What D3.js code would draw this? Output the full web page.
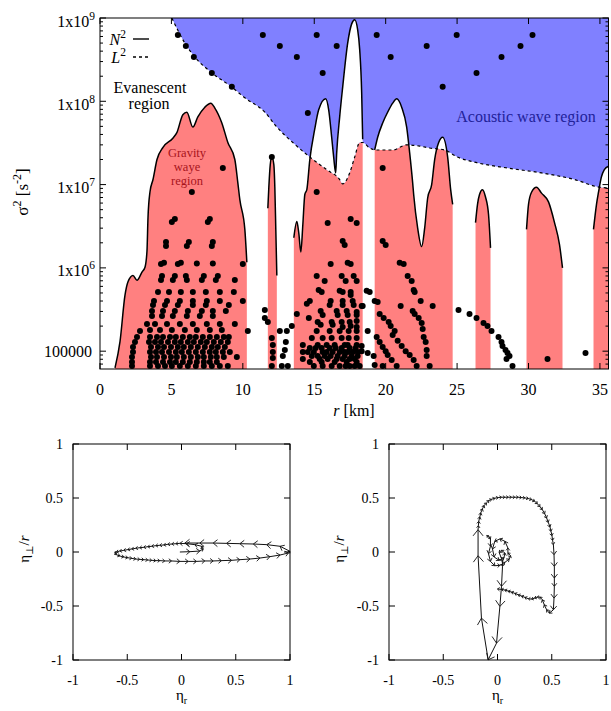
<!DOCTYPE html>
<html>
<head>
<meta charset="utf-8">
<script src="https://cdn.jsdelivr.net/npm/d3@7"></script>
<style>
  body { margin: 0; background: #fff; }
  svg text { font-family: "Liberation Serif", "Times New Roman", "DejaVu Serif", serif !important; }
</style>
</head>
<body>
<svg id="chart" width="611" height="711" font-family="Liberation Serif, DejaVu Serif, serif"></svg>
<script>
'use strict';

// ---- top panel data: r [km], sigma^2 [s^-2] ----
const n2Core = [[1.05,6.3e4],[1.40,1.3e5],[1.75,4.7e5],[1.96,6.8e5],[2.31,8.1e5],[2.59,7.1e5],[2.94,8.9e5],[3.15,1.02e6],[3.29,1.6e6],[3.36,4.0e6],[3.50,8.2e6],[3.71,1.15e7],[3.99,2.0e7],[4.41,2.8e7],[5.10,3.6e7],[5.38,4.2e7],[5.80,6.9e7],[6.08,7.4e7],[6.50,4.9e7],[6.85,6.5e7],[7.34,8.5e7],[7.76,9.5e7],[8.04,8.3e7],[8.53,5.5e7],[8.95,3.2e7],[9.44,2.0e7],[9.65,1.05e7],[9.79,6.6e6],[10.14,2.9e6],[10.28,1.17e6]];
const n2Spike = [[11.75,5.2e6],[11.82,9.3e6],[11.92,1.74e7],[12.03,2.14e7],[12.17,1.74e7],[12.24,9.3e6],[12.31,2.8e6],[12.38,8.1e5]];
const n2Band16 = [[13.57,2.3e6],[13.78,3.6e6],[13.92,2.6e6],[14.06,1.55e6],[14.20,3.3e6],[14.34,7.6e6],[14.48,8.7e6],[14.69,2.0e7],[15.03,4.6e7],[15.31,7.9e7],[15.80,1.07e8],[16.01,7.9e7],[16.22,3.7e7],[16.36,2.14e7],[16.50,1.38e7],[16.57,2.4e7],[16.78,6.5e7],[16.99,1.48e8],[17.34,5.0e8],[17.62,8.5e8],[17.83,9.5e8],[18.04,7.2e8],[18.18,4.2e8],[18.32,1.26e8],[18.39,3.5e7]];
const n2Band21 = [[19.23,2.6e7],[19.44,3.7e7],[19.79,5.5e7],[20.14,7.4e7],[20.49,9.5e7],[20.77,1.07e8],[21.12,8.5e7],[21.47,4.9e7],[21.68,2.4e7],[21.89,1.05e7],[21.96,7.6e6],[22.24,3.0e6],[22.52,1.8e6],[22.73,3.0e6],[22.94,6.9e6],[23.22,1.0e7],[23.43,2.0e7],[23.71,3.2e7],[23.99,3.7e7],[24.34,2.14e7],[24.55,8.7e6],[24.69,5.8e6]];
const n2Band27 = [[26.29,3.5e6],[26.43,5.8e6],[26.57,7.6e6],[26.78,8.7e6],[26.99,7.1e6],[27.20,4.4e6],[27.34,1.74e6]];
const n2Band31 = [[29.86,2.9e6],[30.00,5.8e6],[30.21,8.1e6],[30.56,9.3e6],[30.91,7.9e6],[31.40,6.2e6],[31.82,3.5e6],[32.17,1.9e6],[32.38,1.0e6]];
const n2Band35 = [[34.55,2.9e6],[34.76,5.8e6],[34.90,8.1e6],[35.10,1.23e7],[35.31,1.51e7],[35.60,1.66e7]];

const l2Curve = [[5.03,1.0e9],[5.94,5.0e8],[6.64,3.4e8],[7.83,2.2e8],[9.23,1.48e8],[10.14,1.1e8],[11.54,7.4e7],[12.38,4.9e7],[13.50,3.2e7],[14.69,2.14e7],[15.87,1.51e7],[16.78,1.15e7],[16.99,1.02e7],[17.48,1.38e7],[17.83,2.14e7],[18.18,3.2e7],[18.39,3.2e7],[18.88,2.75e7],[19.37,2.6e7],[20.49,2.6e7],[21.47,3.0e7],[22.38,2.9e7],[23.08,2.75e7],[24.13,2.6e7],[25.03,2.14e7],[26.22,1.86e7],[28.53,1.58e7],[30.91,1.38e7],[33.22,1.15e7],[34.97,9.3e6],[35.66,9.1e6]];

const acousticModes = [[5.45,6.25e8],[6.01,4.61e8],[6.57,3.40e8],[7.83,2.19e8],[9.23,1.49e8],[11.40,6.25e8],[12.59,4.61e8],[13.78,3.40e8],[15.17,6.25e8],[16.57,4.61e8],[15.59,2.19e8],[14.55,7.24e7],[19.37,6.25e8],[20.35,3.40e8],[22.87,4.61e8],[24.97,6.25e8],[23.99,1.49e8],[26.36,2.19e8],[28.11,3.40e8],[29.44,4.61e8],[30.28,6.25e8]];

const coreModes = [[6.43,8.15e6],[8.60,1.58e7],[5.03,3.56e6],[5.24,3.86e6],[7.55,3.56e6],[7.69,3.86e6],[4.62,2.05e6],[4.62,1.83e6],[6.08,1.83e6],[6.22,2.05e6],[7.83,1.83e6],[7.90,2.05e6],[4.27,1.11e6],[4.48,1.15e6],[5.45,1.11e6],[5.66,1.15e6],[6.78,1.13e6],[7.90,1.13e6],[10.0,1.11e6],[4.34,8.0e5],[4.27,7.16e5],[5.24,8.0e5],[5.10,7.16e5],[6.01,8.0e5],[6.08,7.16e5],[7.13,7.16e5],[7.27,8.0e5],[8.25,8.0e5],[8.11,7.16e5],[9.44,7.16e5]];

// dense rows: [sigma^2, r values]
const coreRows = [
  [5.14e5,[4.06,4.83,5.66,6.50,7.41,8.39,9.37]],
  [4.01e5,[3.78,4.69,5.59,6.50,7.48,8.39,10.0]],
  [3.59e5,[3.71,4.55,5.45,6.50,7.41,9.02]],
  [3.04e5,[3.64,4.41,5.24,6.15,7.13,7.90,8.81]],
  [2.65e5,[3.64,4.34,5.10,6.08,6.99,7.90]],
  [2.12e5,[3.29,3.85,4.69,5.59,6.50,7.48,8.39,9.44]],
  [1.80e5,[3.50,4.20,5.03,5.94,6.78,7.69,8.53]],
  [1.75e5,[2.80,10.35]],
  [1.48e5,[2.59,3.50,3.99,4.41,4.90,5.31,5.80,6.29,6.71,7.20,7.69,8.18,8.67,9.02]],
  [1.29e5,[2.45,3.43,3.85,4.27,4.76,5.24,5.66,6.15,6.57,7.06,7.48,7.97,8.46,8.95]],
  [1.12e5,[2.31,3.57,4.06,4.48,4.97,5.45,5.87,6.36,6.85,7.34,7.83,8.25,8.74]],
  [9.77e4,[2.31,3.50,3.92,4.34,4.83,5.31,5.73,6.22,6.71,7.20,7.69,8.11,8.60,9.09]],
  [8.51e4,[2.24,3.57,3.99,4.48,4.97,5.38,5.87,6.36,6.85,7.27,7.76,8.18,8.67,9.58]],
  [7.41e4,[2.24,3.50,3.92,4.41,4.90,5.31,5.80,6.29,6.78,7.27,7.69,8.18]],
  [6.64e4,[2.24,3.50,4.06,4.55,5.03,5.59,6.15,6.71,7.27,7.83,8.39,8.95]]
];

const midModes = [[12.03,2.14e7],[15.17,8.15e6],[15.94,3.46e6],[17.55,3.86e6],[17.97,3.46e6],[16.99,2.10e6],[17.13,1.88e6],[16.15,1.11e6],[17.34,1.15e6],[17.55,1.11e6],[15.17,8.0e5],[15.73,6.97e5],[16.92,8.0e5],[17.20,6.97e5],[17.76,8.0e5],[17.97,6.97e5],[15.31,5.43e5],[15.52,5.14e5],[16.78,5.3e5],[16.99,5.14e5],[17.55,5.14e5],[17.55,4.73e5],[14.69,4.01e5],[14.48,3.7e5],[16.15,4.01e5],[16.08,3.59e5],[16.99,4.01e5],[16.99,3.59e5],[17.69,4.01e5],[17.76,3.59e5],[18.32,3.49e5],[15.45,3.04e5],[15.59,2.72e5],[16.57,3.04e5],[16.64,2.72e5],[17.27,3.04e5],[17.34,2.72e5],[17.97,2.96e5],[17.97,2.72e5],[14.62,2.51e5],[15.24,2.24e5],[15.45,2.07e5],[16.22,2.24e5],[16.29,2.07e5],[16.92,2.24e5],[16.99,1.95e5],[17.48,2.24e5],[17.55,2.01e5],[17.97,2.3e5],[17.97,1.95e5],
  [11.54,3.13e5],[11.54,2.51e5],[11.75,2.24e5],[12.03,1.44e5],[12.10,1.19e5],[12.10,9.77e4],[12.10,8.28e4],[12.03,6.64e4],[12.59,1.75e5],[13.01,1.29e5],[12.94,1.03e5],[12.80,8.75e4],[12.73,6.64e4],[13.15,6.64e4],[13.08,1.75e5],[13.43,2.01e5],[13.78,2.80e5],
  [18.67,5.3e5],[18.88,5.14e5],[18.39,3.49e5],[18.74,1.75e5],[18.32,1.15e5],[18.32,1.0e5],[18.74,9.51e4]];

const midRows = [
  [1.75e5,[15.17,16.08,16.78,17.41,17.97]],
  [1.44e5,[14.83,15.59,16.22,16.92,17.41,17.97]],
  [1.19e5,[14.20,15.24,15.87,16.43,17.13,17.34,17.97]],
  [1.09e5,[14.69,15.10,15.52,16.08,16.50,16.92,17.48,17.90]],
  [9.77e4,[14.20,14.55,14.97,15.59,15.87,16.29,16.78,17.13,17.34,17.69,18.04]],
  [8.75e4,[14.83,15.24,15.73,16.15,16.64,17.13,17.62,18.04]],
  [8.05e4,[14.20,15.38,15.94,16.57,16.99,17.48,17.83]],
  [7.41e4,[14.69,15.52,16.43,17.27,17.97]],
  [6.64e4,[14.97,15.59,16.22,16.78,17.20,17.48,17.83,18.18]]
];

const outerModes = [[19.79,1.58e7],[19.79,2.10e6],[20.0,1.88e6],[20.98,1.15e6],[21.26,1.11e6],[21.54,8.0e5],[21.82,6.97e5],[21.96,5.43e5],[22.03,5.14e5],[19.23,4.01e5],[19.44,3.9e5],[21.05,3.49e5],[22.45,4.01e5],[23.29,3.49e5],[21.89,3.04e5],[22.03,2.80e5],[19.58,2.80e5],[19.86,2.51e5],[20.21,2.24e5],[20.35,2.01e5],[20.63,1.75e5],[22.31,2.51e5],[22.52,2.18e5],[22.59,1.85e5],[22.66,1.48e5],[22.80,1.29e5],[22.87,1.03e5],[22.87,8.75e4],[23.08,6.64e4],[22.17,6.64e4],[20.49,1.56e5],[20.84,1.33e5],[21.12,1.15e5],[21.40,1.0e5],[21.68,9.0e4],[21.96,7.83e4],[19.37,1.48e5],[19.58,1.29e5],[19.79,1.12e5],[20.0,1.0e5],[20.14,9.0e4],[20.42,7.83e4],[19.16,8.75e4],[19.23,6.82e4],[19.79,6.64e4],[20.77,6.64e4],
  [25.10,3.13e5],[25.87,2.80e5],[26.36,2.51e5],[26.85,2.18e5],[27.13,2.01e5],[27.41,1.75e5],[27.90,1.48e5],[28.11,1.29e5],[28.18,1.15e5],[28.39,1.03e5],[28.53,9.51e4],[28.46,8.05e4],[28.67,8.75e4],[28.88,6.64e4],[31.33,8.05e4],[33.99,9.51e4]];

const rTicks = [0,5,10,15,20,25,30,35];
const s2Ticks = [1e5,1e6,1e7,1e8,1e9];
const s2TickLabels = [["100000",""],["1x10","6"],["1x10","7"],["1x10","8"],["1x10","9"]];

// ---- bottom panels: eta_r, eta_perp/r ----
const orbitLeft = [[-0.015,0.0],[0.077,0.003],[0.169,0.009],[0.2,0.028],[0.185,0.053],[0.123,0.068],[0.046,0.077],
  [-0.015,0.080],[-0.052,0.077],[-0.089,0.074],[-0.126,0.071],[-0.163,0.065],[-0.2,0.062],[-0.237,0.059],[-0.274,0.053],[-0.311,0.049],[-0.348,0.043],[-0.385,0.040],[-0.422,0.034],[-0.458,0.028],[-0.495,0.022],[-0.532,0.015],[-0.569,0.009],[-0.6,0.0],[-0.615,-0.009],
  [-0.6,-0.025],[-0.569,-0.037],[-0.532,-0.046],[-0.495,-0.053],[-0.458,-0.059],[-0.422,-0.065],[-0.385,-0.068],[-0.348,-0.071],[-0.311,-0.074],[-0.274,-0.077],[-0.237,-0.080],[-0.2,-0.080],[-0.154,-0.083],[-0.092,-0.083],[-0.015,-0.087],[0.062,-0.087],[0.138,-0.087],[0.215,-0.083],[0.292,-0.083],[0.369,-0.080],[0.462,-0.077],[0.538,-0.071],[0.631,-0.065],[0.723,-0.056],[0.815,-0.043],[0.908,-0.028],[0.985,-0.009],[1.0,0.006],
  [0.908,0.053],[0.785,0.068],[0.662,0.074],[0.538,0.077],[0.415,0.080],[0.292,0.083],[0.169,0.083],[0.031,0.083]];

const orbitRight = [[-0.102,0.139],[-0.083,0.151],[-0.065,0.121],[-0.065,0.053],[-0.083,-0.015],[-0.065,-0.087],[-0.025,-0.127],[0.022,-0.124],[0.068,-0.096],[0.108,-0.065],[0.120,-0.034],[0.096,-0.009],[0.096,0.037],[0.068,0.099],[0.022,0.121],[-0.025,0.099],[-0.046,0.028],[-0.031,-0.046],[0.015,-0.077],[0.059,-0.056],[0.068,-0.009],[0.037,0.015],[0.015,-0.003],[0.046,-0.087],
  [0.046,-0.133],[0.037,-0.318],[0.022,-0.504],[-0.009,-0.844],[-0.086,-0.998],
  [-0.148,-0.612],[-0.179,-0.034],[-0.179,0.207],
  [-0.176,0.244],[-0.173,0.284],[-0.163,0.325],[-0.154,0.362],[-0.139,0.399],[-0.123,0.430],[-0.102,0.454],[-0.080,0.476],[-0.055,0.488],[-0.025,0.498],[0.006,0.504],[0.037,0.507],[0.068,0.507],[0.099,0.507],[0.129,0.507],[0.160,0.507],[0.191,0.507],[0.222,0.504],[0.253,0.501],[0.284,0.495],[0.314,0.485],[0.342,0.470],[0.367,0.448],[0.391,0.420],[0.413,0.393],[0.435,0.355],[0.453,0.315],[0.468,0.275],[0.484,0.232],[0.493,0.192],[0.502,0.151],[0.508,0.108],[0.515,0.068],
  [0.521,-0.025],[0.524,-0.133],[0.524,-0.241],[0.524,-0.318],[0.521,-0.427],[0.515,-0.535],
  [0.478,-0.566],[0.453,-0.535],[0.431,-0.488],[0.413,-0.442],[0.391,-0.417],[0.367,-0.417],[0.342,-0.427],[0.314,-0.436],[0.284,-0.433],[0.253,-0.420],[0.222,-0.408],[0.191,-0.396],[0.160,-0.383],[0.129,-0.371],[0.099,-0.362],[0.068,-0.352],[0.037,-0.346],[0.0,-0.343]];

const etaTicks = [-1,-0.5,0,0.5,1];

const svg = d3.select("#chart");

// ================= top panel =================
const T = {left: 100, right: 608.5, top: 18, bottom: 369};
const x = d3.scaleLinear().domain([0, 35.6]).range([T.left, T.right]);
const y = d3.scaleLog().domain([6.11e4, 1e9]).range([T.bottom, T.top]);

const defs = svg.append("defs");
defs.append("clipPath").attr("id", "plotClip")
  .append("rect").attr("x", T.left).attr("y", T.top)
  .attr("width", T.right - T.left).attr("height", T.bottom - T.top);

const aboveL2 = d3.area().x(d => x(d[0])).y0(T.top).y1(d => y(d[1])).curve(d3.curveMonotoneX);
defs.append("clipPath").attr("id", "aboveL2").append("path").attr("d", aboveL2(l2Curve));

const n2Segments = [n2Core, n2Spike, n2Band16, n2Band21, n2Band27, n2Band31, n2Band35];
const underN2 = d3.area().x(d => x(d[0])).y0(T.bottom).y1(d => y(d[1])).curve(d3.curveMonotoneX);
const n2Line = d3.line().x(d => x(d[0])).y(d => y(d[1])).curve(d3.curveMonotoneX);

const fills = svg.append("g").attr("clip-path", "url(#plotClip)");
fills.selectAll("path.grav").data(n2Segments).join("path")
  .attr("class", "grav").attr("d", underN2).attr("fill", "#ff8080");
fills.append("path").attr("d", aboveL2(l2Curve)).attr("fill", "#8080ff");
fills.append("g").attr("clip-path", "url(#aboveL2)")
  .selectAll("path").data(n2Segments).join("path")
  .attr("d", underN2).attr("fill", "#fff");

fills.append("path").attr("d", n2Line(l2Curve)).attr("fill", "none")
  .attr("stroke", "#000").attr("stroke-width", 1.2).attr("stroke-dasharray", "3,3");
fills.selectAll("path.n2").data(n2Segments).join("path")
  .attr("class", "n2").attr("d", n2Line).attr("fill", "none")
  .attr("stroke", "#000").attr("stroke-width", 1.5);

// mode dots
const rowsToPts = rows => rows.flatMap(([s, rs]) => rs.map(r => [r, s]));
const modes = [].concat(acousticModes, coreModes, rowsToPts(coreRows), midModes, rowsToPts(midRows), outerModes);
svg.append("g").selectAll("circle").data(modes).join("circle")
  .attr("cx", d => x(d[0])).attr("cy", d => y(d[1])).attr("r", 3).attr("fill", "#000");

// axes
const axT = svg.append("g");
axT.append("rect").attr("x", T.left).attr("y", T.top).attr("width", T.right - T.left)
  .attr("height", T.bottom - T.top).attr("fill", "none").attr("stroke", "#000").attr("stroke-width", 1);
const tickPath = [];
rTicks.forEach(v => {
  tickPath.push(`M${x(v)},${T.bottom}v-6`, `M${x(v)},${T.top}v6`);
});
y.ticks().forEach(v => {
  const yy = y(v);
  if (yy < T.top - 0.5 || yy > T.bottom + 0.5) return;
  const len = s2Ticks.includes(v) ? 6 : 3;
  tickPath.push(`M${T.left},${yy}h${len}`, `M${T.right},${yy}h${-len}`);
});
axT.append("path").attr("d", tickPath.join("")).attr("stroke", "#000").attr("stroke-width", 1);

axT.selectAll("text.xt").data(rTicks).join("text").attr("class", "xt")
  .attr("x", d => x(d)).attr("y", 395).attr("text-anchor", "middle")
  .attr("font-size", 16).text(d => d);

s2Ticks.forEach((v, i) => {
  const [base, sup] = s2TickLabels[i];
  const t = axT.append("text").attr("text-anchor", "end").attr("font-size", 16);
  if (sup) {
    t.attr("x", 95).attr("y", y(v) + 8.5);
    t.append("tspan").text(base);
    t.append("tspan").attr("dy", -7).attr("font-size", 11.5).text(sup);
  } else {
    t.attr("x", 92).attr("y", y(v) + 6).text(base);
  }
});

// axis titles
const yt = axT.append("text").attr("transform", "translate(28,192) rotate(-90)")
  .attr("text-anchor", "middle").attr("font-size", 17);
yt.append("tspan").text("σ");
yt.append("tspan").attr("dy", -7).attr("font-size", 12).text("2");
yt.append("tspan").attr("dy", 7).text(" [s");
yt.append("tspan").attr("dy", -7).attr("font-size", 12).text("-2");
yt.append("tspan").attr("dy", 7).text("]");

const xt = axT.append("text").attr("x", 354).attr("y", 416).attr("text-anchor", "middle").attr("font-size", 16);
xt.append("tspan").attr("font-style", "italic").text("r");
xt.append("tspan").text(" [km]");

// legend
const leg = svg.append("g").attr("font-size", 16);
[["N", 45, 39, null], ["L", 63, 57, "3,3"]].forEach(([sym, by, ly, dash]) => {
  const t = leg.append("text").attr("x", 126).attr("y", by).attr("text-anchor", "end");
  t.append("tspan").attr("font-style", "italic").text(sym);
  t.append("tspan").attr("dy", -7).attr("font-size", 11.5).text("2");
  leg.append("line").attr("x1", 133).attr("x2", 149).attr("y1", ly).attr("y2", ly)
    .attr("stroke", "#000").attr("stroke-width", 1.4).attr("stroke-dasharray", dash);
});

// region labels
const lab = svg.append("g").attr("text-anchor", "middle");
const ev = lab.append("text").attr("x", 150).attr("y", 93).attr("font-size", 16);
ev.append("tspan").attr("x", 150).text("Evanescent");
ev.append("tspan").attr("x", 149).attr("dy", 16).text("region");
const gw = lab.append("text").attr("x", 187).attr("y", 157).attr("font-size", 12.5).attr("fill", "#a8141c");
gw.append("tspan").attr("x", 187).text("Gravity");
gw.append("tspan").attr("x", 187).attr("dy", 14).text("waye");
gw.append("tspan").attr("x", 187).attr("dy", 14).text("region");
lab.append("text").attr("x", 526).attr("y", 122).attr("font-size", 16).attr("fill", "#22229a").text("Acoustic wave region");

// ================= bottom panels =================
function orbitPanel(left, right, top, bottom, pts, labelX) {
  const sx = d3.scaleLinear().domain([-1, 1]).range([left, right]);
  const sy = d3.scaleLinear().domain([-1, 1]).range([bottom, top]);
  const g = svg.append("g");

  const line = d3.line().x(d => sx(d[0])).y(d => sy(d[1]));
  g.append("path").attr("d", line(pts)).attr("fill", "none").attr("stroke", "#111").attr("stroke-width", 1);
  const heads = [];
  for (let i = 1; i < pts.length; i++) {
    const x0 = sx(pts[i - 1][0]), y0 = sy(pts[i - 1][1]);
    const x1 = sx(pts[i][0]), y1 = sy(pts[i][1]);
    const len = Math.hypot(x1 - x0, y1 - y0);
    if (len < 0.5) continue;
    const h = Math.min(8, 1.5 + 0.3 * len), a = Math.atan2(y1 - y0, x1 - x0), sp = 0.68;
    heads.push(`M${x1 - h * Math.cos(a - sp)},${y1 - h * Math.sin(a - sp)}L${x1},${y1}L${x1 - h * Math.cos(a + sp)},${y1 - h * Math.sin(a + sp)}`);
  }
  g.append("path").attr("d", heads.join("")).attr("fill", "none").attr("stroke", "#111").attr("stroke-width", 0.9);

  g.append("rect").attr("x", left).attr("y", top).attr("width", right - left).attr("height", bottom - top)
    .attr("fill", "none").attr("stroke", "#000").attr("stroke-width", 1);
  const tp = [];
  etaTicks.forEach(v => {
    tp.push(`M${sx(v)},${bottom}v-6`, `M${sx(v)},${top}v6`, `M${left},${sy(v)}h6`, `M${right},${sy(v)}h-6`);
  });
  g.append("path").attr("d", tp.join("")).attr("stroke", "#000").attr("stroke-width", 1);

  g.selectAll("text.xt").data(etaTicks).join("text").attr("class", "xt")
    .attr("x", d => sx(d)).attr("y", bottom + 25).attr("text-anchor", "middle").attr("font-size", 14).text(d => d);
  g.selectAll("text.yt").data(etaTicks).join("text").attr("class", "yt")
    .attr("x", left - 10).attr("y", d => sy(d) + 5).attr("text-anchor", "end").attr("font-size", 14).text(d => d);

  const xl = g.append("text").attr("x", (left + right) / 2).attr("y", 700).attr("text-anchor", "middle").attr("font-size", 15);
  xl.append("tspan").text("η");
  xl.append("tspan").attr("dy", 4).attr("font-size", 10).text("r");

  const yl = g.append("text").attr("transform", `translate(${labelX},${(top + bottom) / 2 - 3}) rotate(-90)`)
    .attr("text-anchor", "middle").attr("font-size", 15);
  yl.append("tspan").text("η");
  yl.append("tspan").attr("dy", 4).attr("font-size", 10).text("⊥");
  yl.append("tspan").attr("dy", -4).text("/");
  yl.append("tspan").attr("font-style", "italic").text("r");
}

orbitPanel(73, 290, 444, 660, orbitLeft, 29);
orbitPanel(389, 606, 444, 660, orbitRight, 344);
</script>
</body>
</html>
